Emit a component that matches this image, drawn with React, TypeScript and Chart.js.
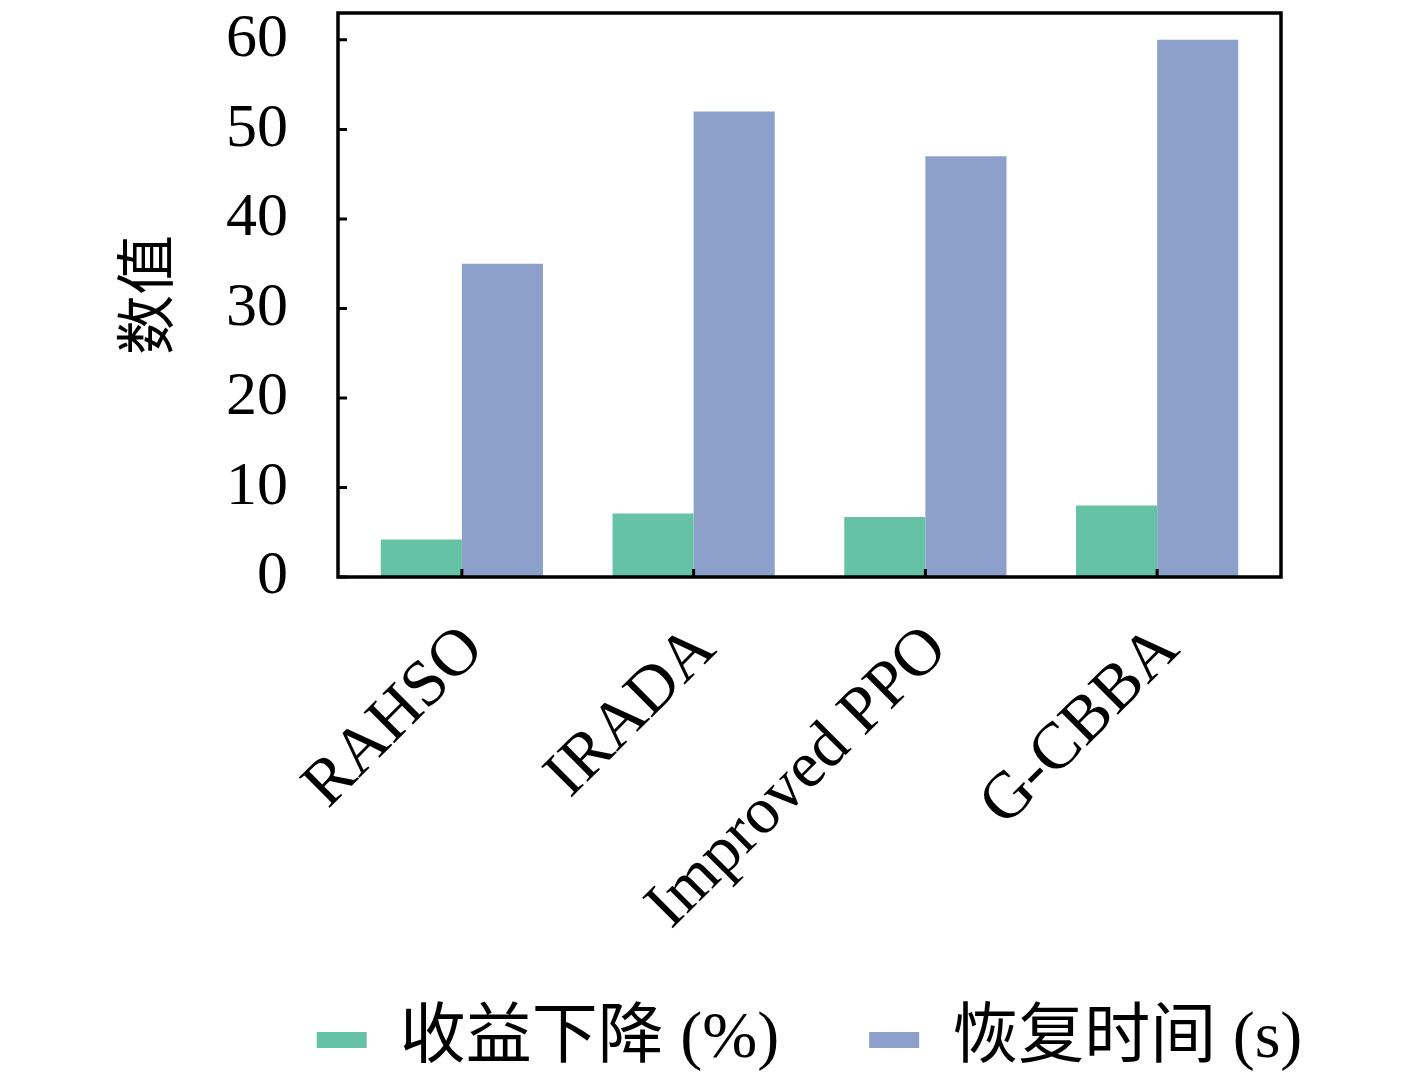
import { useEffect, useRef } from "react"
import { Chart, registerables } from "chart.js"

Chart.register(...registerables)

const categories = ["RAHSO", "IRADA", "Improved PPO", "G-CBBA"]
const revenueDrop = [4.2, 7.1, 6.7, 8.0]
const recoveryTime = [35, 52, 47, 60]
const seriesNames = ["收益下降 (%)", "恢复时间 (s)"]
const yTitle = "数值"

const SERIF = "'Liberation Serif', 'Noto Sans CJK SC', serif"
const FRAME_INSET = 8 // frame is drawn a little outside the bar area

// frame round the plot area plus inward tick marks
const framePlugin = {
  id: "frame",
  afterDatasetsDraw(chart: any) {
    const { ctx, chartArea: a, scales } = chart
    const left = a.left - FRAME_INSET
    const right = a.right + FRAME_INSET
    ctx.save()
    ctx.strokeStyle = "#000"
    ctx.lineWidth = 3.5
    ctx.strokeRect(left, a.top, right - left, a.bottom - a.top)
    ctx.lineWidth = 3
    ctx.beginPath()
    scales.x.ticks.forEach((_t: any, i: number) => {
      const x = scales.x.getPixelForTick(i)
      ctx.moveTo(x, a.bottom)
      ctx.lineTo(x, a.bottom - 8)
    })
    scales.y.ticks.forEach((t: any) => {
      const y = scales.y.getPixelForValue(t.value)
      ctx.moveTo(left, y)
      ctx.lineTo(left + 9, y)
    })
    ctx.stroke()
    ctx.restore()
  },
}

// legend row sits centred under the plot area, near the bottom edge
const legendShift = {
  id: "legendShift",
  afterLayout(chart: any) {
    const lg = chart.legend
    const a = chart.chartArea
    if (!lg) return
    const dx = (a.left + a.right) / 2 - (lg.left + lg.right) / 2
    lg.left += dx
    lg.right += dx
    const labels = lg.options.labels
    const rowCenter = lg.top + labels.padding + labels.font.size / 2
    lg.top += 1040 - rowCenter
    lg.bottom = chart.height
    lg.height = lg.bottom - lg.top
  },
}

const App = () => {
  const canvasRef = useRef<HTMLCanvasElement | null>(null)

  useEffect(() => {
    document.body.style.margin = "0"
    if (!canvasRef.current) return

    const chart = new Chart(canvasRef.current, {
      type: "bar",
      data: {
        labels: categories,
        datasets: [
          {
            label: seriesNames[0],
            data: revenueDrop,
            backgroundColor: "#66c2a5",
            categoryPercentage: 0.7,
            barPercentage: 1,
          },
          {
            label: seriesNames[1],
            data: recoveryTime,
            backgroundColor: "#8da0cb",
            categoryPercentage: 0.7,
            barPercentage: 1,
          },
        ],
      },
      options: {
        animation: false,
        responsive: true,
        maintainAspectRatio: false,
        layout: { padding: { top: 13, right: 144, left: 0, bottom: 0 } },
        plugins: {
          tooltip: { enabled: false },
          legend: {
            position: "bottom",
            fullSize: true,
            maxHeight: 100,
            labels: {
              boxWidth: 50,
              boxHeight: 16,
              padding: 90,
              color: "#000",
              font: { family: SERIF, size: 66 },
            },
          },
        },
        scales: {
          x: {
            grid: { display: false, drawTicks: false },
            border: { display: false },
            ticks: {
              color: "#000",
              font: { family: SERIF, size: 66 },
              minRotation: 45,
              maxRotation: 45,
              autoSkip: false,
              padding: 34,
              labelOffset: 12,
            },
            afterFit: (scale: any) => {
              scale.height = 406
              scale.paddingLeft = 0
              scale.paddingRight = 0
            },
          },
          y: {
            min: 0,
            max: 63,
            grid: { display: false, drawTicks: false },
            border: { display: false },
            ticks: {
              stepSize: 10,
              includeBounds: false,
              color: "#000",
              font: { family: SERIF, size: 62 },
              padding: 58,
            },
            title: {
              display: true,
              text: yTitle,
              color: "#000",
              font: { family: SERIF, size: 60 },
              padding: { top: 116, bottom: 0 },
            },
            afterFit: (scale: any) => {
              scale.width = 346
              scale.paddingTop = 0
              scale.paddingBottom = 0
            },
          },
        },
      },
      plugins: [framePlugin, legendShift],
    })

    return () => {
      chart.destroy()
    }
  }, [])

  return (
    <div style={{ width: 1417, height: 1083, position: "relative" }}>
      <canvas ref={canvasRef} />
    </div>
  )
}

export default App
